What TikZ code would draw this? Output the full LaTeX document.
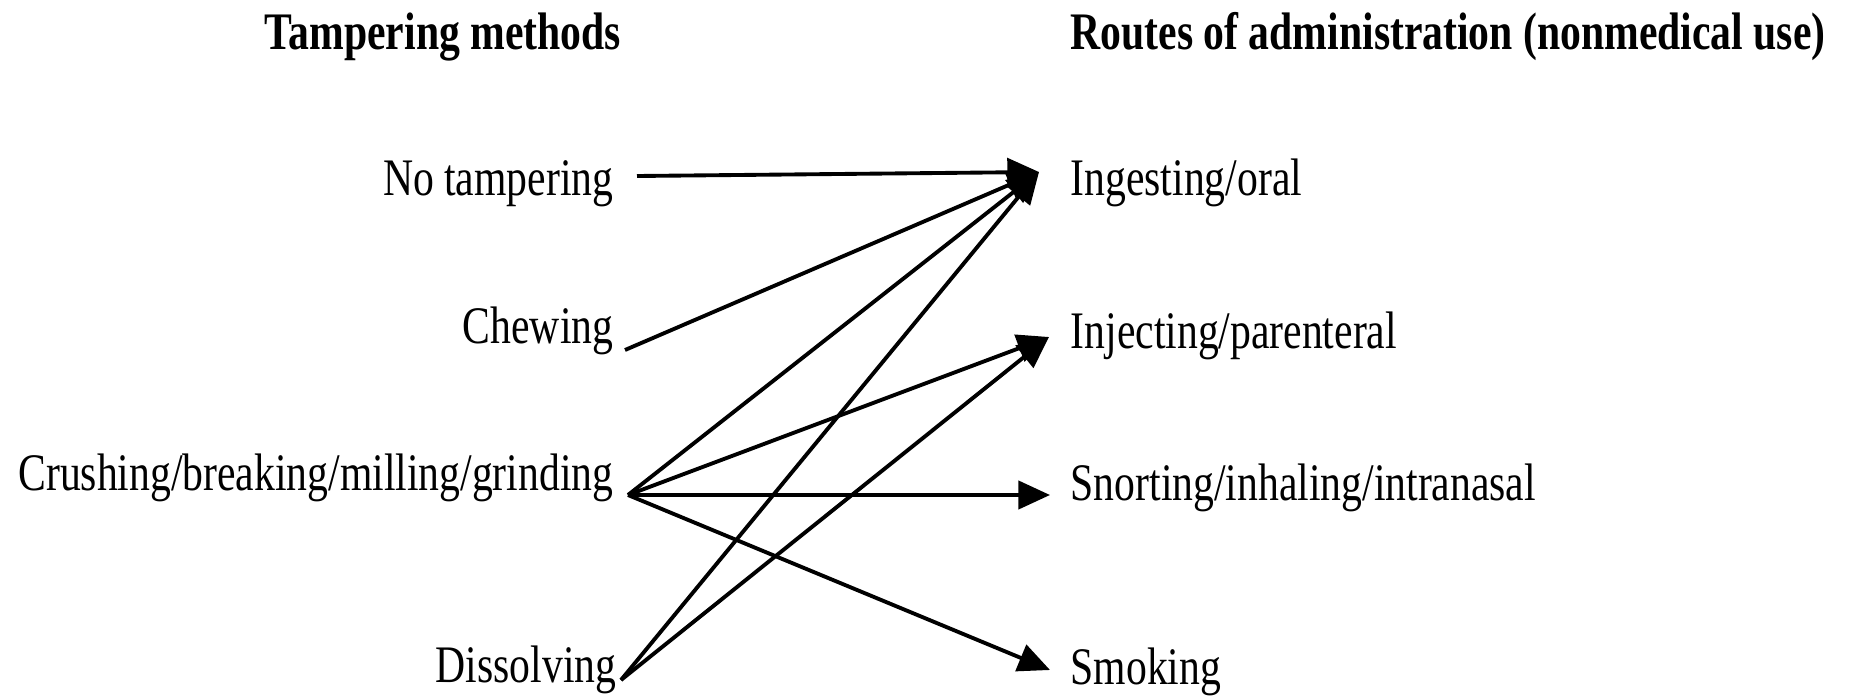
\documentclass[tikz,border=0pt]{standalone}
\usepackage{fontspec}
\setmainfont{Liberation Serif}[FakeStretch=0.79]
\usetikzlibrary{arrows.meta}

\begin{document}
\begin{tikzpicture}[x=0.01cm,y=-0.01cm,
  every node/.style={inner sep=0pt,font=\fontsize{15}{17}\selectfont},
  lbl left/.style={anchor=base east},
  lbl right/.style={anchor=base west},
  head/.style={anchor=base west,font=\fontsize{15}{17}\selectfont\bfseries},
  route/.style={line width=1.1pt,-{Triangle[length=9pt,width=8pt]}}]
\useasboundingbox (0,0) rectangle (1851,697);
%\draw[help lines] (0,0) grid[step=100] (1851,697);
\path
(264,50) node[head] (tamp) {Tampering methods}
(1070,50) node[head] (routes) {Routes of administration (nonmedical use)}
(614,195) node[lbl left] (notamp) {No tampering}
(614,343) node[lbl left] (chew) {Chewing}
(614,490) node[lbl left] (crush) {Crushing/breaking/milling/grinding}
(617,682) node[lbl left] (diss) {Dissolving}
(1070,195) node[lbl right] (ingest) {Ingesting/oral}
(1070,348) node[lbl right] (inject) {Injecting/parenteral}
(1070,500) node[lbl right] (snort) {Snorting/inhaling/intranasal}
(1070,684) node[lbl right] (smoke) {Smoking};
% tails and tips of the arrows
\path
(637,176) coordinate (notamp-o)
(625,350) coordinate (chew-o)
(628,495) coordinate (crush-o)
(621,680) coordinate (diss-o)
(1039,172) coordinate (ingest-i)
(1049,337) coordinate (inject-i)
(1050,495) coordinate (snort-i)
(1050,670) coordinate (smoke-i);
\draw[route] (notamp-o)--(ingest-i);
\draw[route] (chew-o)--(ingest-i);
\draw[route] (crush-o)--(ingest-i);
\draw[route] (crush-o)--(inject-i);
\draw[route] (crush-o)--(snort-i);
\draw[route] (crush-o)--(smoke-i);
\draw[route] (diss-o)--(ingest-i);
\draw[route] (diss-o)--(inject-i);
\end{tikzpicture}
\end{document}
